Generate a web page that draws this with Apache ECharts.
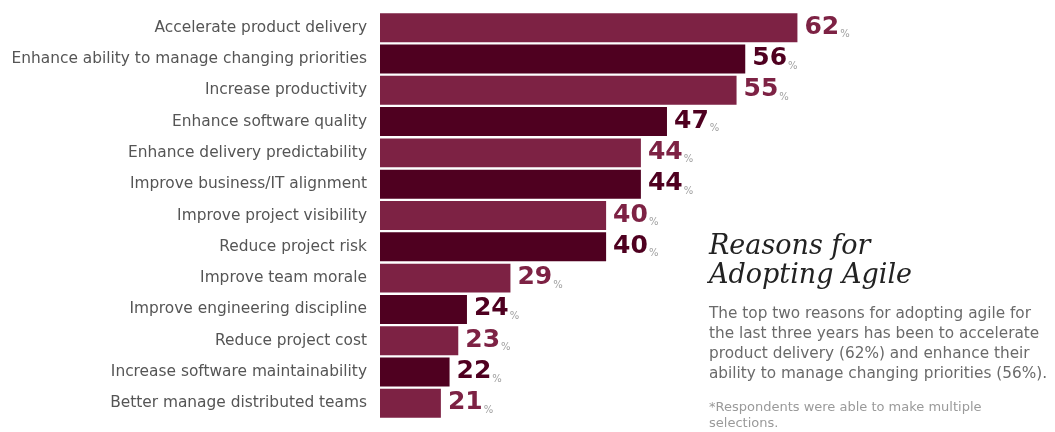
<!DOCTYPE html>
<html><head><meta charset="utf-8">
<script src="https://cdn.jsdelivr.net/npm/echarts@6/dist/echarts.min.js"></script>
<style>html,body{margin:0;padding:0;background:#fff}#c{width:1055px;height:432px}</style>
</head><body><div id="c"></div>
<script>
const categories = [
  'Accelerate product delivery',
  'Enhance ability to manage changing priorities',
  'Increase productivity',
  'Enhance software quality',
  'Enhance delivery predictability',
  'Improve business/IT alignment',
  'Improve project visibility',
  'Reduce project risk',
  'Improve team morale',
  'Improve engineering discipline',
  'Reduce project cost',
  'Increase software maintainability',
  'Better manage distributed teams'
];
const values = [62, 56, 55, 47, 44, 44, 40, 40, 29, 24, 23, 22, 21];
const barColors = ['#7d2244', '#4f0020'];
const titleLines = ['Reasons for', 'Adopting Agile'];
const bodyLines = [
  'The top two reasons for adopting agile for',
  'the last three years has been to accelerate',
  'product delivery (62%) and enhance their',
  'ability to manage changing priorities (56%).'
];
const noteLines = ['*Respondents were able to make multiple', 'selections.'];

const chart = echarts.init(document.getElementById('c'), null, {renderer: 'canvas'});
const font = '"DejaVu Sans", sans-serif';
const option = {
  animation: false,
  grid: {left: 380, top: 12, width: 487, height: 407, containLabel: false},
  xAxis: {type: 'value', min: 14, max: 70, show: false},
  yAxis: {
    type: 'category', data: categories, inverse: true,
    axisLine: {show: false}, axisTick: {show: false}, splitLine: {show: false},
    axisLabel: {fontSize: 15.4, color: '#555', margin: 13, fontFamily: font}
  },
  series: [{
    type: 'bar',
    barCategoryGap: '7.5%',
    data: values.map((v, i) => {
      const c = barColors[i % 2];
      return {
        value: v,
        itemStyle: {color: c},
        label: {
          show: true, position: 'right', distance: 7, offset: [0, -3],
          formatter: p => '{n|' + p.value + '}{p|%}',
          rich: {
            n: {fontSize: 25, fontWeight: 'bold', fontFamily: font, color: c, lineHeight: 30, verticalAlign: 'bottom'},
            p: {fontSize: 10, fontFamily: font, color: '#a0a0a0', lineHeight: 14, verticalAlign: 'bottom', padding: [0, 0, 0, 1]}
          }
        }
      };
    })
  }],
  graphic: [
    {type: 'text', left: 709, top: 232, style: {text: titleLines.join('\n'), fontFamily: '"DejaVu Serif", serif', fontStyle: 'italic', fontSize: 27, lineHeight: 29, fill: '#222'}},
    {type: 'text', left: 709, top: 304, style: {text: bodyLines.join('\n'), fontFamily: font, fontSize: 15.3, lineHeight: 20, fill: '#6a6a6a'}},
    {type: 'text', left: 709, top: 400, style: {text: noteLines.join('\n'), fontFamily: font, fontSize: 13, lineHeight: 16, fill: '#9a9a9a'}}
  ]
};
chart.setOption(option);
</script>
</body></html>
